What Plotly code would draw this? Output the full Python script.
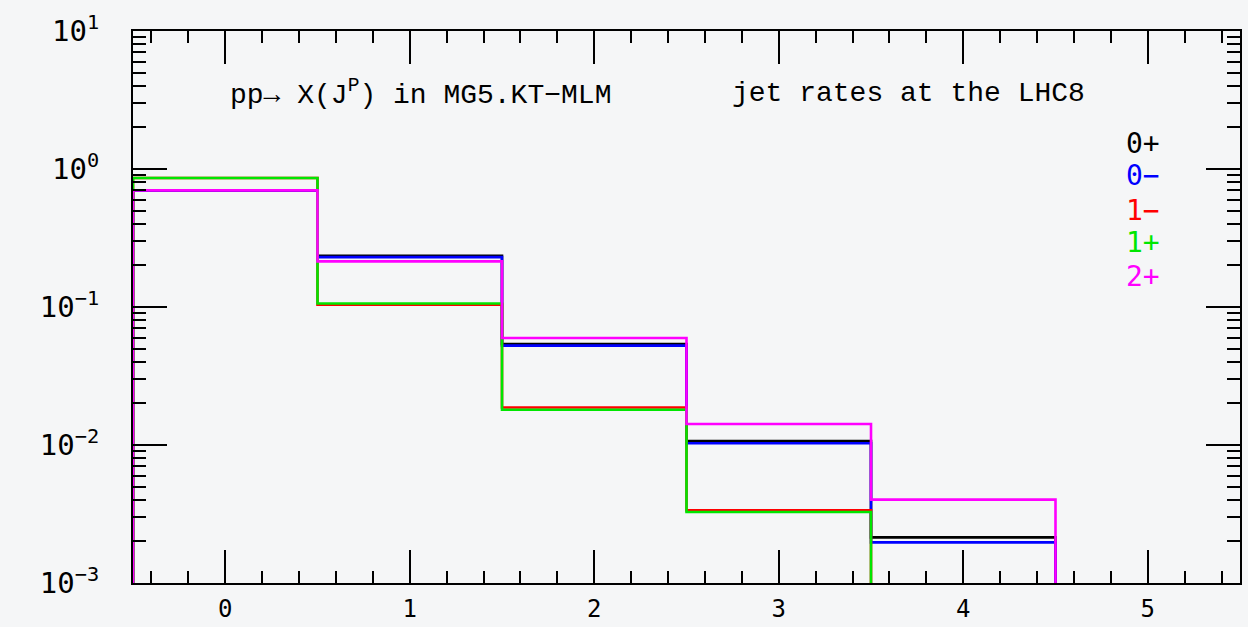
import plotly.graph_objects as go

bin_centers = [0, 1, 2, 3, 4]
series_names = ["0+", "0−", "1−", "1+", "2+"]
series_colors = ["#000000", "#0000ff", "#ff0000", "#00e600", "#ff00ff"]
vals_0p = [0.70, 0.235, 0.054, 0.0107, 0.00214]
vals_0m = [0.70, 0.230, 0.0525, 0.0103, 0.00197]
vals_1m = [0.86, 0.104, 0.0187, 0.00336]
vals_1p = [0.86, 0.106, 0.0180, 0.00327]
vals_2p = [0.70, 0.214, 0.0596, 0.0142, 0.00402]
all_vals = [vals_0p, vals_0m, vals_1m, vals_1p, vals_2p]

y_tickvals = [1e-3, 1e-2, 1e-1, 1, 10]
y_ticktext = ["10<sup>−3</sup>", "10<sup>−2</sup>", "10<sup>−1</sup>", "10<sup>0</sup>", "10<sup>1</sup>"]

FLOOR = 1e-6

fig = go.Figure()
for name, color, vals in zip(series_names, series_colors, all_vals):
    edges_left = [c - 0.5 for c in bin_centers[:len(vals)]]
    last_edge = bin_centers[len(vals) - 1] + 0.5
    xs = [edges_left[0]] + edges_left + [last_edge]
    ys = [FLOOR] + vals + [FLOOR]
    fig.add_trace(go.Scatter(x=xs, y=ys, mode="lines", line=dict(color=color, width=2.6, shape="hv"),
                             name=name, showlegend=False))

fig.update_xaxes(range=[-0.5, 5.5], showgrid=False, zeroline=False, showline=True, linecolor="black", linewidth=2,
                 mirror="ticks", ticks="inside", ticklen=33, tickwidth=2, tickcolor="black", dtick=1, tick0=0,
                 automargin=False,
                 tickfont=dict(family="DejaVu Sans Mono", size=24, color="black"), ticklabelstandoff=3,
                 minor=dict(ticks="inside", ticklen=12, tickwidth=2, tickcolor="black", dtick=0.2, tick0=0, showgrid=False))
fig.update_yaxes(type="log", range=[-3, 1], showgrid=False, zeroline=False, showline=True, linecolor="black", linewidth=2,
                 mirror="ticks", ticks="inside", ticklen=34, tickwidth=2, tickcolor="black",
                 tickvals=y_tickvals, ticktext=y_ticktext, automargin=False,
                 tickfont=dict(family="DejaVu Sans Mono", size=29, color="black"), ticklabelstandoff=26,
                 minor=dict(ticks="inside", ticklen=13, tickwidth=2, tickcolor="black", dtick="D1", showgrid=False))

title_font = dict(family="Liberation Mono", size=28, color="black")
fig.add_annotation(x=228, y=93, xref="paper", yref="paper", text="pp→ X(J<sup>P</sup>) in MG5.KT−MLM",
                   showarrow=False, font=title_font, xanchor="left", yanchor="middle")
fig.add_annotation(text="jet rates at the LHC8", showarrow=False, font=title_font,
                   xanchor="left", yanchor="middle", x=730, y=93, xref="paper", yref="paper")

legend_y = [143, 176, 210, 243, 276]
for name, color, ly in zip(series_names, series_colors, legend_y):
    fig.add_annotation(text=name, x=1162, y=ly, xref="paper", yref="paper", showarrow=False,
                       xanchor="right", yanchor="middle",
                       font=dict(family="DejaVu Sans Mono", size=28, color=color))

# convert pixel positions for annotations into paper coordinates
W, H = 1248, 627
ml, mr, mt, mb = 133, 8, 31, 44
pw, ph = W - ml - mr, H - mt - mb
for a in fig.layout.annotations:
    a.x = (a.x - ml) / pw
    a.y = 1 - (a.y - mt) / ph

fig.update_layout(width=W, height=H, margin=dict(l=ml, r=mr, t=mt, b=mb, autoexpand=False),
                  paper_bgcolor="#f5f6f7", plot_bgcolor="#f5f6f7", showlegend=False)
fig.write_html("out.html")
